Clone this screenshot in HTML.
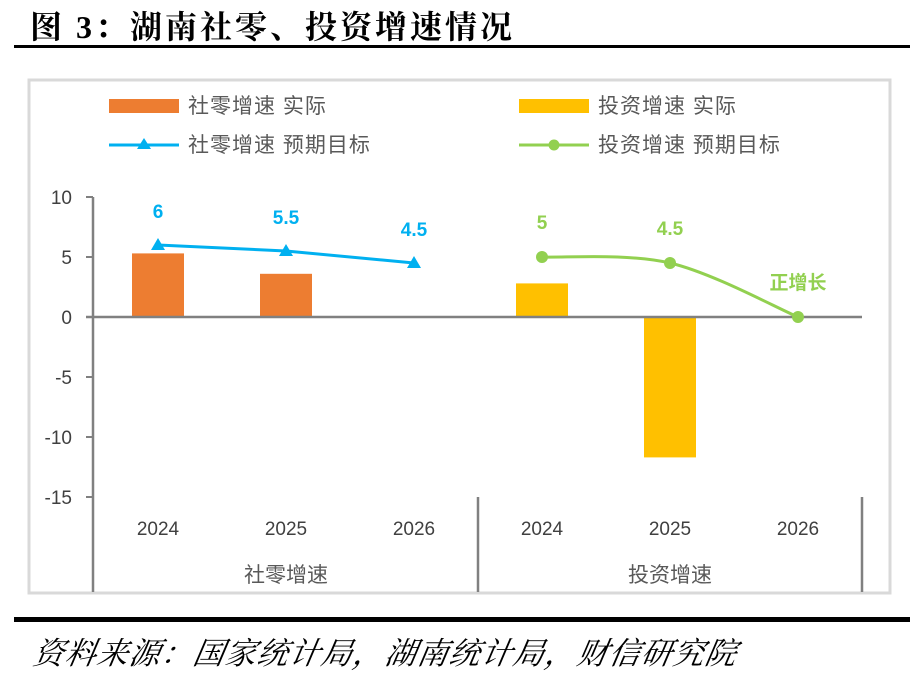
<!DOCTYPE html>
<html><head><meta charset="utf-8"><style>
body{margin:0;background:#fff;width:918px;height:675px;overflow:hidden;position:relative;font-family:"Liberation Sans","Noto Sans CJK SC",sans-serif}
</style></head><body>
<div style="position:absolute;left:30px;top:2px;font:bold 32px 'Liberation Serif','Noto Serif CJK SC',serif;color:#000;letter-spacing:3px">图 3：湖南社零、投资增速情况</div>
<div style="position:absolute;left:14px;top:45px;width:896px;height:3px;background:#000"></div>
<svg id="c" width="918" height="675" style="position:absolute;left:0;top:0"></svg>
<div style="position:absolute;left:14px;top:617px;width:896px;height:5px;background:#000"></div>
<div style="position:absolute;left:34px;top:628px;font:italic 31px 'Noto Serif CJK SC',serif;color:#000;transform:skewX(-10deg);transform-origin:left;letter-spacing:1px">资料来源：国家统计局，湖南统计局，财信研究院</div>
<script>
const cats=["2024","2025","2026","2024","2025","2026"];
const groups=["社零增速","投资增速"];
const retailActual=[5.3,3.6,null];
const investActual=[2.8,-11.7,null];
const retailTarget=[6,5.5,4.5];
const investTarget=[5,4.5,0];
const retailLabels=["6","5.5","4.5"];
const investLabels=["5","4.5","正增长"];
const yTicks=[10,5,0,-5,-10,-15];
const NS="http://www.w3.org/2000/svg",svg=document.getElementById('c');
function y(v){return 317-v*12;}
function x(i){return 158+i*128;}
function el(t,a,txt){const e=document.createElementNS(NS,t);for(const k in a)e.setAttribute(k,a[k]);if(txt!=null)e.textContent=txt;svg.appendChild(e);return e;}
let b=el('rect',{x:29,y:80,width:861,height:513,fill:'none',stroke:'#d9d9d9','stroke-width':3});

const lg=[[109,106,'#ED7D31','bar','社零增速 实际'],[109,145,'#00B0F0','tri','社零增速 预期目标'],[519,106,'#FFC000','bar','投资增速 实际'],[519,145,'#92D050','dot','投资增速 预期目标']];
lg.forEach(l=>{const[lx,ly,c,k,t]=l;
 let g;
 if(k==='bar'){g=el('rect',{x:lx,y:ly-7,width:70,height:14,fill:c});}
 else{g=el('line',{x1:lx,y1:ly,x2:lx+70,y2:ly,stroke:c,'stroke-width':3});
  if(k==='tri')el('path',{d:`M${lx+35},${ly-7}L${lx+42},${ly+4}L${lx+28},${ly+4}Z`,fill:c});else el('circle',{cx:lx+35,cy:ly,r:5.5,fill:c});}
 
 const tx=el('text',{x:lx+79,y:ly+7,'font-size':21,fill:'#595959','letter-spacing':1},t);
 });
let ya=el('line',{x1:93,y1:y(10),x2:93,y2:592,stroke:'#808080','stroke-width':2.5});

yTicks.forEach(v=>{el('line',{x1:86,y1:y(v),x2:93,y2:y(v),stroke:'#808080','stroke-width':2});
 const t=el('text',{x:72,y:y(v)+7,'font-size':19,fill:'#404040','text-anchor':'end'},String(v));
 });
function bars(arr,off,c,n){arr.forEach((v,i)=>{if(v==null)return;const r=el('rect',{x:x(i+off)-26,y:Math.min(y(v),y(0)),width:52,height:Math.abs(y(v)-y(0)),fill:c});
 });}
bars(retailActual,0,'#ED7D31','retail-bar');bars(investActual,3,'#FFC000','invest-bar');
let z=el('line',{x1:86,y1:y(0),x2:862,y2:y(0),stroke:'#808080','stroke-width':2.5});

[478,862].forEach(sx=>{const s=el('line',{x1:sx,y1:497,x2:sx,y2:592,stroke:'#808080','stroke-width':2.5});
 });
cats.forEach((c,i)=>{const t=el('text',{x:x(i),y:535,'font-size':19,fill:'#404040','text-anchor':'middle'},c);
 });
groups.forEach((g,i)=>{const t=el('text',{x:x(1+3*i),y:582,'font-size':21,fill:'#595959','text-anchor':'middle'},g);
 });
function smooth(p){let d=`M${p[0][0]},${p[0][1]}`;for(let i=0;i<p.length-1;i++){const p0=p[i-1]||p[i],p1=p[i],p2=p[i+1],p3=p[i+2]||p2;
 d+=`C${p1[0]+(p2[0]-p0[0])/6},${p1[1]+(p2[1]-p0[1])/6} ${p2[0]-(p3[0]-p1[0])/6},${p2[1]-(p3[1]-p1[1])/6} ${p2[0]},${p2[1]}`;}return d;}
const rp=retailTarget.map((v,i)=>[x(i),y(v)]);
let rl=el('path',{d:'M'+rp.map(p=>p.join(',')).join('L'),fill:'none',stroke:'#00B0F0','stroke-width':3});

rp.forEach((p,i)=>{const m=el('path',{d:`M${p[0]},${p[1]-7}L${p[0]+7},${p[1]+5}L${p[0]-7},${p[1]+5}Z`,fill:'#00B0F0'});
 
 const t=el('text',{x:p[0],y:p[1]-27,'font-size':19,'font-weight':'bold',fill:'#00B0F0','text-anchor':'middle'},retailLabels[i]);
 });
const ip=investTarget.map((v,i)=>[x(i+3),y(v)]);
let il=el('path',{d:smooth(ip),fill:'none',stroke:'#92D050','stroke-width':3});

ip.forEach((p,i)=>{const m=el('circle',{cx:p[0],cy:p[1],r:6,fill:'#92D050'});
 
 const t=el('text',{x:p[0],y:p[1]-28,'font-size':19,'font-weight':'bold',fill:'#92D050','text-anchor':'middle'},investLabels[i]);
 });
</script>
</body></html>
